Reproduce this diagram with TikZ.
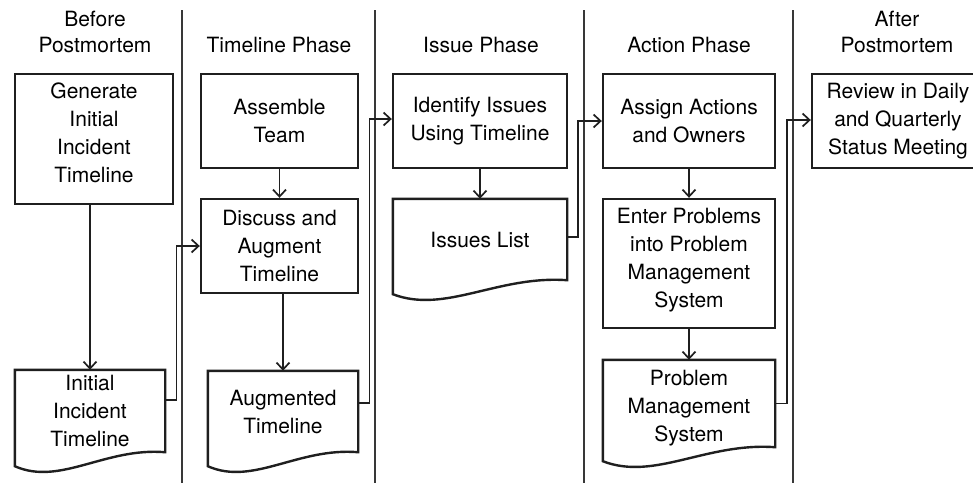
\documentclass[tikz,border=0pt]{standalone}
\usepackage{fontspec}
\setmainfont{TeX Gyre Heros}
\usetikzlibrary{arrows.meta,calc}
\newcommand\docoutline[1]{%
  \draw[docline] (#1.south east) -- (#1.north east) -- (#1.north west) --
    ($(#1.south west)+(0,14)$)
    .. controls ($(#1.south west)!0.3!(#1.south east)+(0,34)$)
    and ($(#1.south west)!0.6!(#1.south east)+(0,-5)$) .. (#1.south east) -- cycle;}
\begin{document}
\begin{tikzpicture}[x=1pt,y=-1pt,
  txt/.style={font=\fontsize{21}{28}\selectfont,align=center,inner sep=0pt},
  box/.style={txt,draw=black!88,line width=2.4pt},
  doc/.style={txt},
  docline/.style={draw=black!88,line width=2.4pt,line join=miter},
  head/.style={align=center,inner sep=0pt,font=\fontsize{21}{26}\selectfont},
  arr/.style={draw=black!88,line width=1.7pt,-{Straight Barb[length=7pt,width=13pt,line width=1.7pt]}},
  divider/.style={draw=black!78,line width=1.7pt}]
\useasboundingbox (0,0) rectangle (973,483);

% dividers
\foreach \x/\n in {182/a,375/b,584/c,793/d}{
  \coordinate (dt\n) at (\x,10);
  \coordinate (db\n) at (\x,483);
  \draw[divider] (dt\n) -- (db\n);
}

% headers
\node[head] (h1) at (95,31.5) {Before\\Postmortem};
\node[head] (h2) at (279,44.5) {Timeline Phase};
\node[head] (h3) at (481,44.5) {Issue Phase};
\node[head] (h4) at (689,44.5) {Action Phase};
\node[head] (h5) at (897,31.5) {After\\Postmortem};

% boxes
\node[box,minimum width=158pt,minimum height=130pt,text depth=13pt] (gen) at (94,139) {Generate\\Initial\\Incident\\Timeline};
\node[box,minimum width=157pt,minimum height=94pt] (assemble) at (279.5,121) {Assemble\\Team};
\node[box,minimum width=157pt,minimum height=94pt] (discuss) at (279.5,246) {Discuss and\\Augment\\Timeline};
\node[box,minimum width=174pt,minimum height=94pt] (identify) at (480,121) {Identify Issues\\Using Timeline};
\node[box,minimum width=172pt,minimum height=94pt] (assign) at (689,121) {Assign Actions\\and Owners};
\node[box,minimum width=172pt,minimum height=129pt,text depth=12pt] (enter) at (689,263.5) {Enter Problems\\into Problem\\Management\\System};
\node[box,minimum width=172pt,minimum height=94pt] (review) at (898,121) {Review in Daily\\and Quarterly\\Status Meeting};

% documents
\node[doc,minimum width=150pt,minimum height=82pt,text depth=0pt] (initdoc) at (90,411) {Initial\\Incident\\Timeline};
\docoutline{initdoc}
\node[doc,minimum width=150pt,minimum height=81pt] (augdoc) at (283,411.5) {Augmented\\Timeline};
\docoutline{augdoc}
\node[doc,minimum width=174pt,minimum height=81pt] (issues) at (480,239.5) {Issues List};
\docoutline{issues}
\node[doc,minimum width=172pt,minimum height=87pt,text height=75pt,text depth=0pt] (pms) at (689,403.5) {Problem\\Management\\System};
\docoutline{pms}

% vertical arrows
\draw[arr] (gen.south -| initdoc.north) -- (initdoc.north);
\draw[arr] (assemble.south) -- (discuss.north);
\draw[arr] (discuss.south -| augdoc.north) -- (augdoc.north);
\draw[arr] (identify.south) -- (issues.north);
\draw[arr] (assign.south) -- (enter.north);
\draw[arr] (enter.south) -- (pms.north);

% elbow connectors
\coordinate (x1) at (176.5,0);
\coordinate (x2) at (369.5,0);
\coordinate (x3) at (578,0);
\coordinate (x4) at (787,0);
\coordinate (s1) at ([yshift=11pt]initdoc.east);
\coordinate (s2) at ([yshift=8.5pt]augdoc.east);
\coordinate (s3) at ([yshift=2.5pt]issues.east);
\coordinate (s4) at (pms.east);
\draw[arr] (s1) -- (s1 -| x1) |- (discuss.west);
\draw[arr] (s2) -- (s2 -| x2) |- ([yshift=2pt]identify.west);
\draw[arr] (s3) -- (s3 -| x3) |- (assign.west);
\draw[arr] (s4) -- (s4 -| x4) |- ([yshift=1pt]review.west);
\end{tikzpicture}
\end{document}
